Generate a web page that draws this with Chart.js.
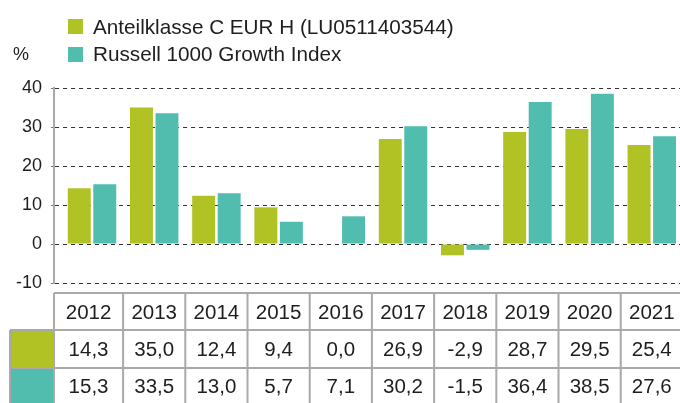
<!DOCTYPE html>
<html>
<head>
<meta charset="utf-8">
<script src="https://cdn.jsdelivr.net/npm/chart.js@4/dist/chart.umd.min.js"></script>
<style>
  html, body { margin: 0; padding: 0; background: #fff; overflow: hidden; }
  #wrap { width: 680px; height: 403px; position: relative; }
</style>
</head>
<body>
<div id="wrap"><canvas id="chart"></canvas></div>
<script>
var years = [2012, 2013, 2014, 2015, 2016, 2017, 2018, 2019, 2020, 2021];
var fundValues = [14.3, 35.0, 12.4, 9.4, 0.0, 26.9, -2.9, 28.7, 29.5, 25.4];
var indexValues = [15.3, 33.5, 13.0, 5.7, 7.1, 30.2, -1.5, 36.4, 38.5, 27.6];
var seriesNames = ["Anteilklasse C EUR H (LU0511403544)", "Russell 1000 Growth Index"];
var yTicks = [-10, 0, 10, 20, 30, 40];
var unitLabel = "%";

var green = "#b0c224";
var teal = "#50bdae";
var textColor = "#1e1e1e";
var lineGray = "#a9a9a9";
var fontFamily = "'Liberation Sans', Arial, sans-serif";

function fmt(v) {
  return v.toFixed(1).replace(".", ",");
}

// legend, % sign and the value table below the bars
var extras = {
  id: "extras",
  afterDraw: function (chart) {
    var ctx = chart.ctx;
    var x = chart.scales.x;
    var area = chart.chartArea;
    ctx.save();

    // legend
    ctx.font = "20.7px " + fontFamily;
    ctx.textBaseline = "alphabetic";
    ctx.textAlign = "left";
    ctx.fillStyle = green;
    ctx.fillRect(68, 19, 15, 15);
    ctx.fillStyle = teal;
    ctx.fillRect(68, 47, 15, 15);
    ctx.fillStyle = textColor;
    ctx.fillText(seriesNames[0], 93, 34);
    ctx.fillText(seriesNames[1], 93, 61);
    ctx.font = "18px " + fontFamily;
    ctx.fillText(unitLabel, 13, 60);

    // table
    var rows = [293, 330, 368, 406];
    var edges = [area.left];
    for (var i = 0; i < years.length - 1; i++) {
      edges.push((x.getPixelForValue(years[i]) + x.getPixelForValue(years[i + 1])) / 2);
    }
    edges.push(area.right + 10);

    ctx.fillStyle = green;
    ctx.fillRect(10, rows[1], area.left - 10, rows[2] - rows[1]);
    ctx.fillStyle = teal;
    ctx.fillRect(10, rows[2], area.left - 10, rows[3] - rows[2]);

    ctx.strokeStyle = lineGray;
    ctx.lineWidth = 2;
    ctx.beginPath();
    ctx.moveTo(area.left, rows[0]);
    ctx.lineTo(edges[edges.length - 1], rows[0]);
    for (var r = 1; r < rows.length; r++) {
      ctx.moveTo(10, rows[r]);
      ctx.lineTo(edges[edges.length - 1], rows[r]);
    }
    for (var e = 0; e < edges.length; e++) {
      ctx.moveTo(edges[e], rows[0]);
      ctx.lineTo(edges[e], rows[3]);
    }
    ctx.moveTo(10, rows[1]);
    ctx.lineTo(10, rows[3]);
    ctx.stroke();

    ctx.fillStyle = textColor;
    ctx.font = "20.5px " + fontFamily;
    ctx.textAlign = "center";
    ctx.textBaseline = "middle";
    for (var j = 0; j < years.length; j++) {
      var cx = (edges[j] + edges[j + 1]) / 2;
      if (j === years.length - 1) cx = x.getPixelForValue(years[j]);
      ctx.fillText(String(years[j]), cx, (rows[0] + rows[1]) / 2 + 2);
      ctx.fillText(fmt(fundValues[j]), cx, (rows[1] + rows[2]) / 2 + 1);
      ctx.fillText(fmt(indexValues[j]), cx, (rows[2] + rows[3]) / 2);
    }
    ctx.restore();
  },
};

var config = {
  type: "bar",
  data: {
    labels: years,
    datasets: [
      {
        label: seriesNames[0],
        data: fundValues,
        backgroundColor: green,
        categoryPercentage: 0.82,
        barPercentage: 0.9,
      },
      {
        label: seriesNames[1],
        data: indexValues,
        backgroundColor: teal,
        categoryPercentage: 0.82,
        barPercentage: 0.9,
      },
    ],
  },
  options: {
    responsive: false,
    animation: false,
    layout: { padding: { top: 88, bottom: 120, left: 0, right: 0 } },
    plugins: {
      legend: { display: false },
      tooltip: { enabled: false },
    },
    scales: {
      x: {
        type: "linear",
        bounds: "data",
        offset: false,
        grid: { offset: false },
        min: years[0] - 0.611,
        max: years[years.length - 1] + 0.453,
        afterBuildTicks: function (scale) {
          scale.ticks = years.map((v) => ({ value: v }));
        },
        display: false,
      },
      y: {
        min: yTicks[0],
        max: yTicks[yTicks.length - 1],
        afterBuildTicks: function (scale) {
          scale.ticks = yTicks.map((v) => ({ value: v }));
        },
        afterFit: function (scale) {
          scale.width = 54;
        },
        grid: {
          color: "#333",
          lineWidth: 1,
          tickLength: 3,
          tickColor: "#777",
        },
        border: {
          display: true,
          color: lineGray,
          width: 2,
          dash: [4, 4],
          dashOffset: 0,
        },
        ticks: {
          padding: 9,
          color: textColor,
          font: { family: fontFamily, size: 18 },
        },
      },
    },
  },
  plugins: [extras],
};

var cv = document.getElementById("chart");
cv.width = 680;
cv.height = 403;
myChart = new Chart(cv, config);
</script>
</body>
</html>
